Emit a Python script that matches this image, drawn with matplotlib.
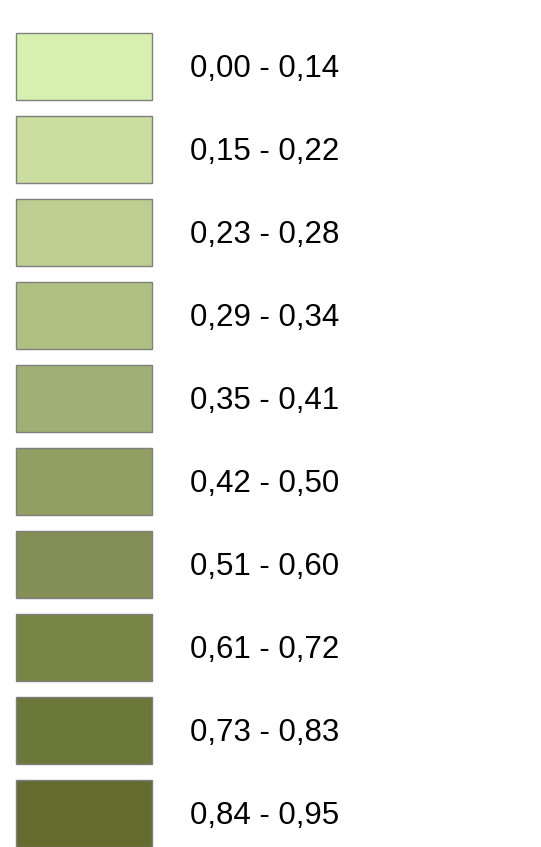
import matplotlib.pyplot as plt
import numpy as np

labels = ["0,00 - 0,14", "0,15 - 0,22", "0,23 - 0,28", "0,29 - 0,34", "0,35 - 0,41",
          "0,42 - 0,50", "0,51 - 0,60", "0,61 - 0,72", "0,73 - 0,83", "0,84 - 0,95"]
colors = ["#d7efaf", "#c9de9f", "#bdcf90", "#aec183", "#a0b074",
          "#919f62", "#838f55", "#788443", "#6c783a", "#636b2f"]

fig = plt.figure(figsize=(5.41, 8.47), dpi=100)
ax = fig.add_axes([0, 0, 1, 1])
ax.set_xlim(0, 541)
ax.set_ylim(847, 0)
ax.axis("off")

# rows every ~83 px, first swatch centre at 66
pos = 66.5 + 83.0 * np.arange(len(labels))
ax.barh(pos, 136, height=67, left=16, color=colors, edgecolor="#7f7f7f", linewidth=1.0)

for y, lab in zip(pos, labels):
    ax.text(190, y + 10.5, lab, fontsize=22.5, family="Liberation Sans",
            va="baseline", ha="left", color="black")

fig.savefig("out.png", dpi=100)
